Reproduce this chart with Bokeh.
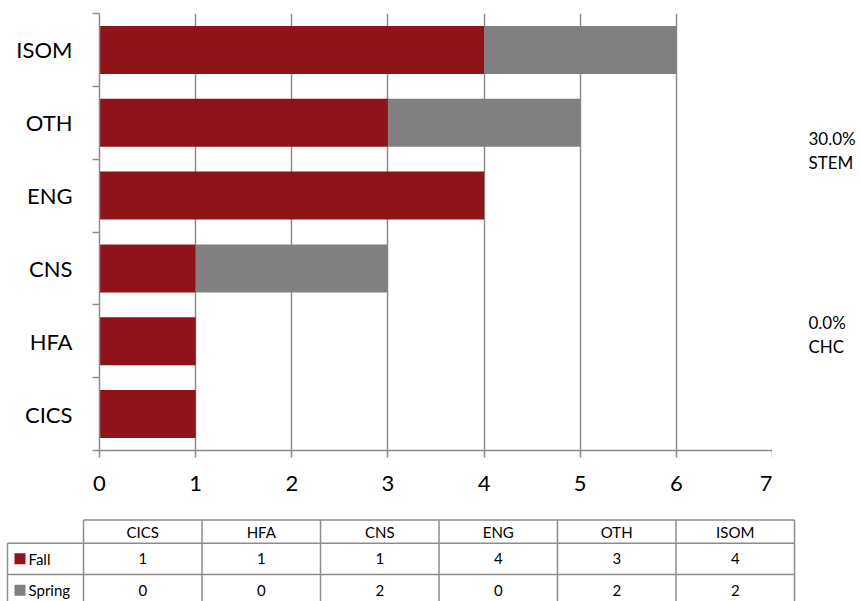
import numpy as np
from bokeh.plotting import figure
from bokeh.models import (ColumnDataSource, Range1d, FixedTicker, CustomJSTickFormatter)
from bokeh.layouts import column, row
from bokeh.embed import file_html
from bokeh.resources import INLINE
from bokeh.core.properties import value

# ---- data ----
categories = ["CICS", "HFA", "CNS", "ENG", "OTH", "ISOM"]
fall = [1, 1, 1, 4, 3, 4]
spring = [0, 0, 2, 0, 2, 2]
series_names = ["Fall", "Spring"]
x_ticks = [0, 1, 2, 3, 4, 5, 6, 7]
side_pcts = [30.0, 0.0]
side_names = ["STEM", "CHC"]

FALL_C = "#8E141A"
SPRING_C = "#808080"
GRID_C = "#8C8C8C"
FONT = "Lato"

n = len(categories)
ycent = list(np.arange(n) + 0.5)
src = ColumnDataSource(dict(y=ycent, Fall=fall, Spring=spring, cat=categories))

FRAME_W, FRAME_H = 673, 437
TOP, BOTTOM, LEFT = 13, 63, 99
yr = Range1d(0, n)

# ---- chart ----
p = figure(frame_width=FRAME_W, frame_height=FRAME_H, output_backend="svg", toolbar_location=None,
           x_range=Range1d(x_ticks[0], x_ticks[-1]), y_range=yr,
           min_border_left=LEFT, min_border_right=0, min_border_top=TOP, min_border_bottom=BOTTOM)
p.outline_line_color = None

p.hbar_stack(series_names, y="y", height=0.66, color=[FALL_C, SPRING_C], line_color=None,
             source=src)

p.ygrid.visible = False
p.xgrid.grid_line_color = GRID_C
p.xgrid.grid_line_width = 1.5
p.xaxis.ticker = FixedTicker(ticks=x_ticks)
p.xaxis.axis_line_color = GRID_C
p.xaxis.axis_line_width = 1.5
p.xaxis.major_tick_line_color = GRID_C
p.xaxis.major_tick_line_width = 1.5
p.xaxis.major_tick_in = 0
p.xaxis.major_tick_out = 7
p.xaxis.minor_tick_line_color = None
p.xaxis.major_label_text_font = FONT
p.xaxis.major_label_text_font_size = "22px"
p.xaxis.major_label_text_color = "black"
p.xaxis.major_label_standoff = 18

p.yaxis.ticker = FixedTicker(ticks=ycent, minor_ticks=list(range(n + 1)))
p.yaxis.formatter = CustomJSTickFormatter(args=dict(labels=categories),
                                          code="return labels[Math.floor(tick)];")
p.yaxis.axis_line_color = GRID_C
p.yaxis.axis_line_width = 1.5
p.yaxis.major_tick_line_color = None
p.yaxis.major_tick_in = 0
p.yaxis.major_tick_out = 0
p.yaxis.minor_tick_line_color = GRID_C
p.yaxis.minor_tick_line_width = 1.5
p.yaxis.minor_tick_in = 0
p.yaxis.minor_tick_out = 7
p.yaxis.major_label_text_font = FONT
p.yaxis.major_label_text_font_size = "22px"
p.yaxis.major_label_text_color = "black"
p.yaxis.major_label_standoff = 20

# ---- side notes (right of the plot area) ----
SIDE_W = 860 - (LEFT + FRAME_W)
s = figure(frame_width=SIDE_W, frame_height=FRAME_H, output_backend="svg", toolbar_location=None,
           x_range=Range1d(0, SIDE_W), y_range=yr, x_axis_type=None, y_axis_type=None,
           min_border_left=0, min_border_right=0, min_border_top=TOP, min_border_bottom=BOTTOM)
s.outline_line_color = None
s.grid.visible = False
side_y = [(4.284, 3.954), (1.757, 1.428)]
stx, sty = [], []
for pct, name, (y1, y2) in zip(side_pcts, side_names, side_y):
    stx += [f"{pct:.1f}%", name]
    sty += [y1, y2]
s.text(x=36, y=sty, text=stx, text_font=value(FONT), text_font_size="17px",
       text_color="black", text_align="left", text_baseline="middle")

# ---- data table ----
TW, TH = 860, 88
t = figure(width=TW, height=TH, output_backend="svg", toolbar_location=None,
           x_range=Range1d(0, TW), y_range=Range1d(TH, 0),
           x_axis_type=None, y_axis_type=None,
           min_border_left=0, min_border_right=0, min_border_top=0, min_border_bottom=0)
t.outline_line_color = None
t.grid.visible = False

tbl_left, col_w = 83, 118.5
row_tops = [6.5, 29.7, 61.0]
lab_left = 7
bottom = TH + 10
edges = [tbl_left + k * col_w for k in range(n + 1)]
x0 = [tbl_left, lab_left, lab_left] + edges + [lab_left]
x1 = [edges[-1], edges[-1], edges[-1]] + edges + [lab_left]
y0 = row_tops + [row_tops[0]] * (n + 1) + [row_tops[1]]
y1 = row_tops + [bottom] * (n + 1) + [bottom]
t.segment(x0=x0, y0=y0, x1=x1, y1=y1, line_color=GRID_C, line_width=1.5)

centers = [tbl_left + (k + 0.5) * col_w for k in range(n)]
hdr_y = (row_tops[0] + row_tops[1]) / 2
fall_y = (row_tops[1] + row_tops[2]) / 2
spr_y = row_tops[2] + (row_tops[2] - row_tops[1]) / 2
tsrc = ColumnDataSource(dict(x=centers, cat=categories,
                             f=[str(v) for v in fall], s=[str(v) for v in spring]))
common = dict(text_font=value(FONT), text_font_size="15px", text_color="black",
              text_align="center", text_baseline="middle")
t.text(x="x", y=hdr_y, text="cat", source=tsrc, **common)
t.text(x="x", y=fall_y, text="f", source=tsrc, **common)
t.text(x="x", y=spr_y, text="s", source=tsrc, **common)

t.rect(x=[19.5, 19.5], y=[fall_y, spr_y], width=11, height=11,
       fill_color=[FALL_C, SPRING_C], line_color=None)
t.text(x=[28, 28], y=[fall_y, spr_y], text=series_names, text_font=value(FONT),
       text_font_size="15px", text_color="black", text_align="left", text_baseline="middle")

layout = column(row(p, s, spacing=0), t, spacing=0)
open("out.html", "w").write(file_html(layout, INLINE))
